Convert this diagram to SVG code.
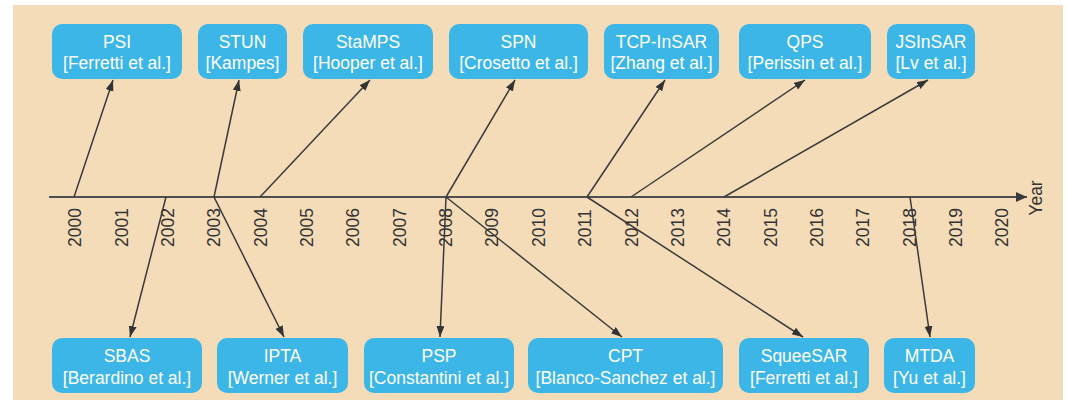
<svg xmlns="http://www.w3.org/2000/svg" width="1067" height="406" viewBox="0 0 1067 406">
  <style>
    .panel { fill: #F4DCB9; }
    .box { fill: #3CB6E6; }
    .lbl { font-family: "Liberation Sans", Arial, sans-serif; font-size: 17.5px; fill: #FFFFFF; text-anchor: middle; }
    .yr { font-family: "Liberation Sans", Arial, sans-serif; font-size: 17.5px; fill: #333333; text-anchor: start; }
    .axis { stroke: #4f4f4f; stroke-width: 2; fill: none; }
    .link { stroke: #3a3a3a; stroke-width: 1.5; fill: none; marker-end: url(#head); }
  </style>
  <defs>
    <marker id="head" markerUnits="userSpaceOnUse" markerWidth="12" markerHeight="10" refX="11" refY="4" orient="auto">
      <path d="M0,0 L11,4 L0,8 Z" fill="#333333"/>
    </marker>
    <marker id="axishead" markerUnits="userSpaceOnUse" markerWidth="12" markerHeight="12" refX="11" refY="5" orient="auto">
      <path d="M0,0 L11,5 L0,10 Z" fill="#3a3a3a"/>
    </marker>
  </defs>

  <rect class="panel" x="13" y="5" width="1050" height="395"/>

  <!-- time axis -->
  <g id="axis">
    <line class="axis" x1="49" y1="197" x2="1027" y2="197" marker-end="url(#axishead)"/>
    <text class="yr" transform="translate(1041.5,198) rotate(-90)" style="text-anchor:middle">Year</text>
    <text class="yr" transform="translate(81.3,247) rotate(-90)">2000</text>
    <text class="yr" transform="translate(127.6,247) rotate(-90)">2001</text>
    <text class="yr" transform="translate(174,247) rotate(-90)">2002</text>
    <text class="yr" transform="translate(220.3,247) rotate(-90)">2003</text>
    <text class="yr" transform="translate(266.7,247) rotate(-90)">2004</text>
    <text class="yr" transform="translate(313,247) rotate(-90)">2005</text>
    <text class="yr" transform="translate(359.4,247) rotate(-90)">2006</text>
    <text class="yr" transform="translate(405.7,247) rotate(-90)">2007</text>
    <text class="yr" transform="translate(452.1,247) rotate(-90)">2008</text>
    <text class="yr" transform="translate(498.4,247) rotate(-90)">2009</text>
    <text class="yr" transform="translate(544.8,247) rotate(-90)">2010</text>
    <text class="yr" transform="translate(591.1,247) rotate(-90)">2011</text>
    <text class="yr" transform="translate(637.5,247) rotate(-90)">2012</text>
    <text class="yr" transform="translate(683.8,247) rotate(-90)">2013</text>
    <text class="yr" transform="translate(730.2,247) rotate(-90)">2014</text>
    <text class="yr" transform="translate(776.5,247) rotate(-90)">2015</text>
    <text class="yr" transform="translate(822.9,247) rotate(-90)">2016</text>
    <text class="yr" transform="translate(869.2,247) rotate(-90)">2017</text>
    <text class="yr" transform="translate(915.6,247) rotate(-90)">2018</text>
    <text class="yr" transform="translate(961.9,247) rotate(-90)">2019</text>
    <text class="yr" transform="translate(1008.3,247) rotate(-90)">2020</text>
  </g>

  <!-- connectors from the axis to each method -->
  <g id="connectors">
    <line class="link" x1="74" y1="197" x2="113" y2="80"/>
    <line class="link" x1="214" y1="197" x2="239" y2="80"/>
    <line class="link" x1="260" y1="197" x2="370" y2="80"/>
    <line class="link" x1="446" y1="197" x2="515" y2="80"/>
    <line class="link" x1="587" y1="197" x2="665" y2="80"/>
    <line class="link" x1="631" y1="197" x2="805" y2="80"/>
    <line class="link" x1="724" y1="197" x2="928" y2="80"/>
    <line class="link" x1="166" y1="197" x2="130" y2="337"/>
    <line class="link" x1="214" y1="197" x2="284" y2="337"/>
    <line class="link" x1="446" y1="197" x2="440" y2="337"/>
    <line class="link" x1="446" y1="197" x2="622" y2="337"/>
    <line class="link" x1="587" y1="197" x2="803" y2="337"/>
    <line class="link" x1="910" y1="197" x2="930" y2="337"/>
  </g>

  <!-- methods above the axis -->
  <g id="psi">
    <rect class="box" x="52" y="24" width="130" height="55" rx="10"/>
    <text class="lbl" x="117" y="47.5">PSI</text>
    <text class="lbl" x="117" y="69">[Ferretti et al.]</text>
  </g>
  <g id="stun">
    <rect class="box" x="198" y="24" width="89" height="55" rx="10"/>
    <text class="lbl" x="242.5" y="47.5">STUN</text>
    <text class="lbl" x="242.5" y="69">[Kampes]</text>
  </g>
  <g id="stamps">
    <rect class="box" x="303" y="24" width="130" height="55" rx="10"/>
    <text class="lbl" x="368" y="47.5">StaMPS</text>
    <text class="lbl" x="368" y="69">[Hooper et al.]</text>
  </g>
  <g id="spn">
    <rect class="box" x="449" y="24" width="139" height="55" rx="10"/>
    <text class="lbl" x="518.5" y="47.5">SPN</text>
    <text class="lbl" x="518.5" y="69">[Crosetto et al.]</text>
  </g>
  <g id="tcp-insar">
    <rect class="box" x="604" y="24" width="115" height="55" rx="10"/>
    <text class="lbl" x="661.5" y="47.5">TCP-InSAR</text>
    <text class="lbl" x="661.5" y="69">[Zhang et al.]</text>
  </g>
  <g id="qps">
    <rect class="box" x="739" y="24" width="132" height="55" rx="10"/>
    <text class="lbl" x="805" y="47.5">QPS</text>
    <text class="lbl" x="805" y="69">[Perissin et al.]</text>
  </g>
  <g id="jsinsar">
    <rect class="box" x="887" y="24" width="88" height="55" rx="10"/>
    <text class="lbl" x="931" y="47.5">JSInSAR</text>
    <text class="lbl" x="931" y="69">[Lv et al.]</text>
  </g>

  <!-- methods below the axis -->
  <g id="sbas">
    <rect class="box" x="52" y="338" width="150" height="55" rx="10"/>
    <text class="lbl" x="127" y="362">SBAS</text>
    <text class="lbl" x="127" y="383.5">[Berardino et al.]</text>
  </g>
  <g id="ipta">
    <rect class="box" x="217" y="338" width="131" height="55" rx="10"/>
    <text class="lbl" x="282.5" y="362">IPTA</text>
    <text class="lbl" x="282.5" y="383.5">[Werner et al.]</text>
  </g>
  <g id="psp">
    <rect class="box" x="364" y="338" width="150" height="55" rx="10"/>
    <text class="lbl" x="439" y="362">PSP</text>
    <text class="lbl" x="439" y="383.5">[Constantini et al.]</text>
  </g>
  <g id="cpt">
    <rect class="box" x="528" y="338" width="195" height="55" rx="10"/>
    <text class="lbl" x="625.5" y="362">CPT</text>
    <text class="lbl" x="625.5" y="383.5">[Blanco-Sanchez et al.]</text>
  </g>
  <g id="squeesar">
    <rect class="box" x="739" y="338" width="130" height="55" rx="10"/>
    <text class="lbl" x="804" y="362">SqueeSAR</text>
    <text class="lbl" x="804" y="383.5">[Ferretti et al.]</text>
  </g>
  <g id="mtda">
    <rect class="box" x="884" y="338" width="91" height="55" rx="10"/>
    <text class="lbl" x="929.5" y="362">MTDA</text>
    <text class="lbl" x="929.5" y="383.5">[Yu et al.]</text>
  </g>
</svg>
